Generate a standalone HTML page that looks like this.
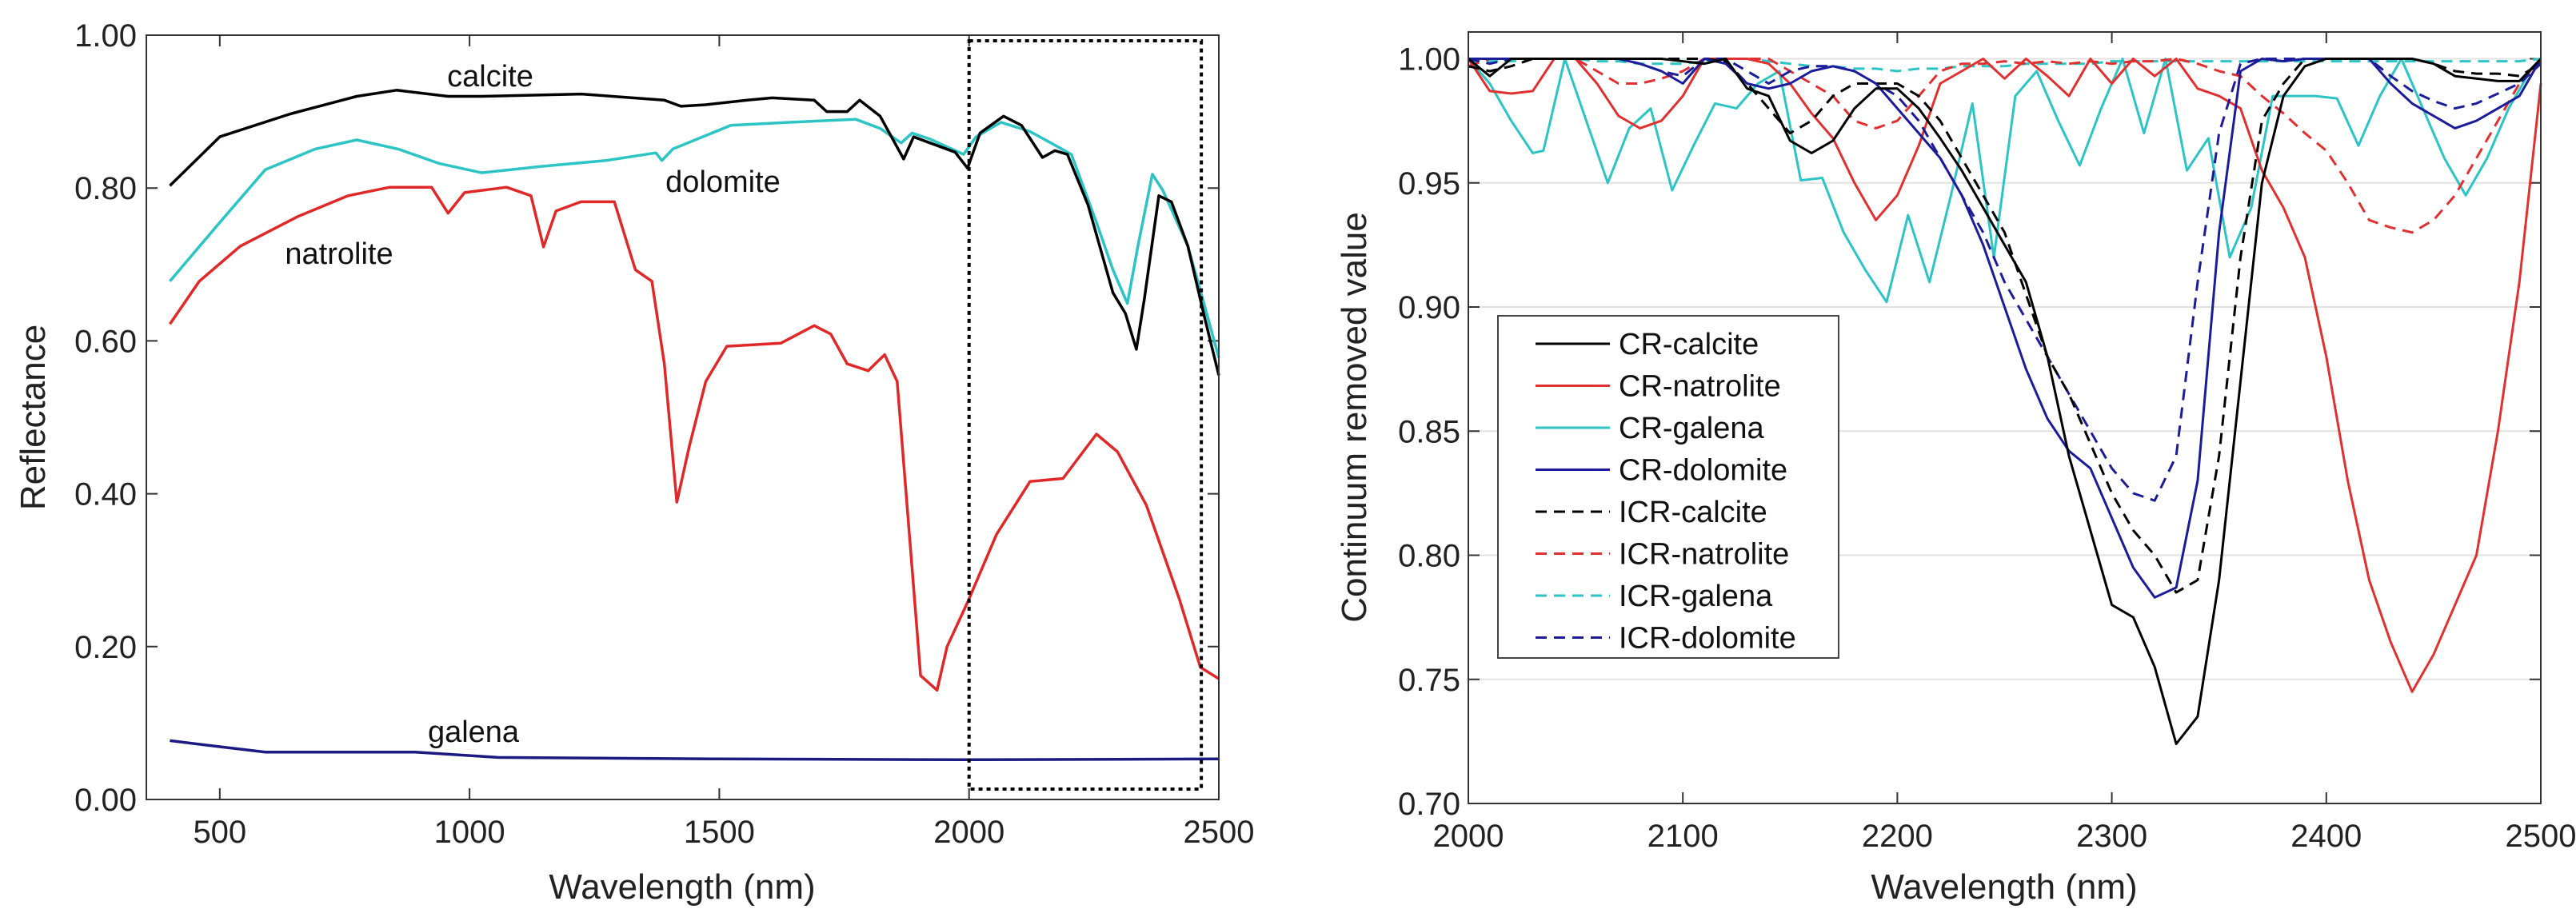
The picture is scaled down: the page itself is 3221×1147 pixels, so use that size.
<!DOCTYPE html>
<html><head><meta charset="utf-8"><title>Reflectance and continuum-removed spectra</title>
<style>
html,body{margin:0;padding:0;background:#fff;}
svg{display:block;font-family:"Liberation Sans",Arial,sans-serif;}
</style></head>
<body>
<svg id="fig" xmlns="http://www.w3.org/2000/svg" width="3221" height="1147" viewBox="0 0 3221 1147">
<rect width="3221" height="1147" fill="#fff"/>
<g id="left"></g>
<g id="right"></g>
</svg>
<script>
// ---------- Left chart data ----------
const leftXTicks = [500, 1000, 1500, 2000, 2500];
const leftYTicks = [0, 0.2, 0.4, 0.6, 0.8, 1.0];
const leftYTickLabels = ["0.00", "0.20", "0.40", "0.60", "0.80", "1.00"];
const calciteX = [400,500,641,774,854,957,1024,1224,1390,1423,1473,1556,1606,1690,1715,1756,1781,1822,1869,1889,1922,1972,1997,2022,2069,2105,2147,2172,2197,2238,2288,2313,2335,2351,2380,2405,2438,2471,2500];
const calciteY = [0.803,0.867,0.897,0.92,0.928,0.92,0.92,0.923,0.915,0.907,0.909,0.915,0.918,0.915,0.9,0.9,0.915,0.894,0.838,0.867,0.859,0.847,0.826,0.872,0.894,0.882,0.84,0.849,0.844,0.778,0.663,0.636,0.589,0.655,0.79,0.782,0.724,0.632,0.555];
const dolomiteX = [400,500,591,691,774,857,940,1024,1140,1273,1373,1385,1407,1523,1640,1773,1822,1864,1886,1922,1989,2014,2064,2122,2164,2205,2255,2288,2317,2338,2367,2388,2438,2471,2500];
const dolomiteY = [0.678,0.755,0.824,0.851,0.863,0.851,0.832,0.82,0.828,0.836,0.846,0.836,0.851,0.882,0.886,0.89,0.878,0.859,0.872,0.864,0.844,0.867,0.886,0.874,0.859,0.844,0.755,0.693,0.649,0.724,0.818,0.797,0.724,0.647,0.578];
const natroliteX = [400,459,541,657,757,840,924,957,990,1074,1123,1148,1173,1223,1290,1332,1365,1390,1415,1440,1473,1515,1623,1690,1723,1756,1798,1831,1856,1889,1903,1936,1956,1997,2055,2122,2188,2255,2297,2355,2421,2463,2500];
const natroliteY = [0.622,0.678,0.724,0.763,0.79,0.801,0.801,0.767,0.794,0.801,0.79,0.723,0.77,0.782,0.782,0.693,0.678,0.57,0.389,0.462,0.547,0.593,0.597,0.62,0.609,0.57,0.561,0.582,0.547,0.277,0.162,0.143,0.2,0.258,0.347,0.416,0.42,0.478,0.455,0.385,0.262,0.173,0.158];
const galenaX = [400,500,591,891,1057,1500,2000,2500];
const galenaY = [0.077,0.069,0.062,0.062,0.055,0.053,0.052,0.053];

// ---------- Right chart data ----------
const rightXTicks = [2000, 2100, 2200, 2300, 2400, 2500];
const rightYTicks = [0.70, 0.75, 0.80, 0.85, 0.90, 0.95, 1.00];
const rightYTickLabels = ["0.70", "0.75", "0.80", "0.85", "0.90", "0.95", "1.00"];
const waveR = [2000,2010,2020,2030,2040,2050,2060,2070,2080,2090,2100,2110,2120,2130,2140,2150,2160,2170,2180,2190,2200,2210,2220,2230,2240,2250,2260,2270,2280,2290,2300,2310,2320,2330,2340,2350,2360,2370,2380,2390,2400,2410,2420,2430,2440,2450,2460,2470,2480,2490,2500];
const crCalcite = [1,0.993,1,1,1,1,1,1,1,1,0.999,0.998,1,0.988,0.985,0.967,0.962,0.967,0.98,0.988,0.988,0.98,0.968,0.955,0.94,0.925,0.91,0.88,0.84,0.81,0.78,0.775,0.755,0.724,0.735,0.79,0.87,0.95,0.985,0.997,1,1,1,1,1,0.998,0.993,0.992,0.991,0.991,1];
const crNatrolite = [1,0.987,0.986,0.987,1,1,0.99,0.977,0.972,0.975,0.985,1,1,1,0.998,0.99,0.978,0.968,0.95,0.935,0.945,0.965,0.99,0.995,1,0.992,1,0.993,0.985,1,0.99,1,0.993,1,0.988,0.985,0.98,0.955,0.94,0.92,0.88,0.83,0.79,0.765,0.745,0.76,0.78,0.8,0.85,0.91,0.99];
const galenaWave = [2000,2010,2020,2030,2035,2045,2055,2065,2075,2085,2095,2105,2115,2125,2135,2145,2155,2165,2175,2185,2195,2205,2215,2225,2235,2245,2255,2265,2275,2285,2295,2305,2315,2325,2335,2345,2355,2365,2375,2385,2395,2405,2415,2425,2435,2445,2455,2465,2475,2485,2495,2500];
const crGalena = [1,0.99,0.975,0.962,0.963,1,0.975,0.95,0.972,0.98,0.947,0.965,0.982,0.98,0.99,0.995,0.951,0.952,0.93,0.915,0.902,0.937,0.91,0.945,0.982,0.92,0.985,0.995,0.975,0.957,0.98,1,0.97,1,0.955,0.968,0.92,0.94,0.985,0.985,0.985,0.984,0.965,0.985,1,0.98,0.96,0.945,0.96,0.98,0.995,1];
const crDolomite = [1,1,1,1,1,1,1,1,0.998,0.995,0.99,1,0.998,0.99,0.988,0.99,0.995,0.997,0.995,0.99,0.98,0.97,0.96,0.945,0.925,0.9,0.875,0.855,0.842,0.835,0.815,0.795,0.783,0.787,0.83,0.93,0.995,1,0.999,1,1,1,1,0.99,0.982,0.977,0.972,0.975,0.98,0.985,1];
const icrCalcite = [0.997,0.995,0.997,1,1,1,1,1,1,1,1,1,0.999,0.99,0.98,0.97,0.975,0.985,0.99,0.99,0.99,0.985,0.975,0.96,0.945,0.93,0.905,0.88,0.865,0.845,0.825,0.81,0.8,0.785,0.79,0.84,0.92,0.975,0.99,1,1,1,1,1,1,0.998,0.995,0.994,0.994,0.993,0.998];
const icrNatrolite = [0.997,1,1,1,1,1,0.995,0.99,0.99,0.992,0.995,1,1,1,1,0.995,0.99,0.985,0.975,0.972,0.975,0.985,0.995,0.998,0.998,0.999,0.998,0.999,0.998,0.999,0.998,0.999,0.999,1,0.998,0.995,0.993,0.985,0.978,0.97,0.963,0.95,0.935,0.932,0.93,0.935,0.945,0.96,0.975,0.99,1];
const icrGalena = [0.999,0.999,0.999,1,1,1,0.999,0.999,0.998,0.998,0.998,0.999,1,1,0.999,0.998,0.997,0.997,0.996,0.996,0.995,0.996,0.996,0.997,0.997,0.997,0.998,0.998,0.998,0.998,0.999,0.999,0.999,0.999,0.999,0.999,0.999,0.999,0.999,0.999,0.999,0.999,0.999,0.999,0.999,0.999,0.999,0.999,0.999,0.999,1];
const icrDolomite = [1,0.998,1,1,1,1,1,1,0.998,0.995,0.993,1,1,0.995,0.99,0.995,0.997,0.997,0.995,0.99,0.985,0.975,0.96,0.945,0.93,0.91,0.895,0.88,0.865,0.85,0.835,0.825,0.822,0.84,0.91,0.97,0.998,1,1,1,1,1,1,0.993,0.987,0.983,0.98,0.982,0.986,0.99,0.998];

const NS = "http://www.w3.org/2000/svg";
function mk(parent, tag, attrs) {
  const e = document.createElementNS(NS, tag);
  for (const k in attrs) e.setAttribute(k, attrs[k]);
  parent.appendChild(e);
  return e;
}
const AX_FONT = 40, TITLE_FONT = 44;

// ---------- Left chart ----------
const L = {x0: 183, x1: 1524, y0: 1000, y1: 44, xmin: 353, xmax: 2500, ymin: 0, ymax: 1.0};
const lx = v => L.x0 + (v - L.xmin) / (L.xmax - L.xmin) * (L.x1 - L.x0);
const ly = v => L.y0 - (v - L.ymin) / (L.ymax - L.ymin) * (L.y0 - L.y1);
const gl = document.getElementById('left');

leftXTicks.forEach((t, i) => {
  const tk = mk(gl, 'path', {d: `M${lx(t)},${L.y0}v-14M${lx(t)},${L.y1}v14`, stroke: '#333', 'stroke-width': 2});
  
  
  const tl = mk(gl, 'text', {x: lx(t), y: L.y0 + 54, 'font-size': AX_FONT, 'text-anchor': 'middle', fill: '#222'});
  tl.textContent = t;
  
  
});
leftYTicks.forEach((t, i) => {
  const tk = mk(gl, 'path', {d: `M${L.x0},${ly(t)}h14M${L.x1},${ly(t)}h-14`, stroke: '#333', 'stroke-width': 2});
  
  
  const tl = mk(gl, 'text', {x: L.x0 - 12, y: ly(t) + 14, 'font-size': AX_FONT, 'text-anchor': 'end', fill: '#222'});
  tl.textContent = leftYTickLabels[i];
  
  
});

function lineL(xs, ys, color, name, w) {
  const d = xs.map((x, i) => (i ? 'L' : 'M') + lx(x).toFixed(1) + ',' + ly(ys[i]).toFixed(1)).join('');
  const p = mk(gl, 'path', {d: d, fill: 'none', stroke: color, 'stroke-width': w || 3.5, 'stroke-linejoin': 'round'});
  
  
}
lineL(galenaX, galenaY, '#1a1a80', 'galena-line');
lineL(natroliteX, natroliteY, '#e02828', 'natrolite-line');
lineL(dolomiteX, dolomiteY, '#2cc4c4', 'dolomite-line');
lineL(calciteX, calciteY, '#000', 'calcite-line');

const zoomBox = mk(gl, 'rect', {x: lx(2000), y: 51, width: lx(2465) - lx(2000), height: 936, fill: 'none', stroke: '#000', 'stroke-width': 4, 'stroke-dasharray': '5,5'});



const lFrame = mk(gl, 'rect', {x: L.x0, y: L.y1, width: L.x1 - L.x0, height: L.y0 - L.y1, fill: 'none', stroke: '#333', 'stroke-width': 2});



[["calcite", 613, 108], ["dolomite", 904, 240], ["natrolite", 424, 330], ["galena", 592, 928]].forEach(a => {
  const t = mk(gl, 'text', {x: a[1], y: a[2], 'font-size': 38, 'text-anchor': 'middle', fill: '#111'});
  t.textContent = a[0];
  
  
});
const lxt = mk(gl, 'text', {x: 853, y: 1124, 'font-size': TITLE_FONT, 'text-anchor': 'middle', fill: '#222'});
lxt.textContent = 'Wavelength (nm)';


const lyt = mk(gl, 'text', {x: 0, y: 0, 'font-size': TITLE_FONT, 'text-anchor': 'middle', fill: '#222', transform: 'translate(56,522) rotate(-90)'});
lyt.textContent = 'Reflectance';



// ---------- Right chart ----------
const R = {x0: 1836, x1: 3177, y0: 1005, y1: 40, xmin: 2000, xmax: 2500, ymin: 0.70, ymax: 1.0};
const rx = v => R.x0 + (v - R.xmin) / (R.xmax - R.xmin) * (R.x1 - R.x0);
const ryScale = (1005 - 73.5) / 0.30;
const ry = v => R.y0 - (v - R.ymin) * ryScale;
const gr = document.getElementById('right');

rightYTicks.forEach((t, i) => {
  if (t > 0.7) {
    const g = mk(gr, 'line', {x1: R.x0, x2: R.x1, y1: ry(t), y2: ry(t), stroke: '#e2e2e2', 'stroke-width': 2});
    
    
  }
  const tk = mk(gr, 'path', {d: `M${R.x0},${ry(t)}h14M${R.x1},${ry(t)}h-14`, stroke: '#333', 'stroke-width': 2});
  
  
  const tl = mk(gr, 'text', {x: R.x0 - 10, y: ry(t) + 14, 'font-size': AX_FONT, 'text-anchor': 'end', fill: '#222'});
  tl.textContent = rightYTickLabels[i];
  
  
});
rightXTicks.forEach(t => {
  const tk = mk(gr, 'path', {d: `M${rx(t)},${R.y0}v-14M${rx(t)},${R.y1}v14`, stroke: '#333', 'stroke-width': 2});
  
  
  const tl = mk(gr, 'text', {x: rx(t), y: R.y0 + 54, 'font-size': AX_FONT, 'text-anchor': 'middle', fill: '#222'});
  tl.textContent = t;
  
  
});

function lineR(xs, ys, color, dashed, name) {
  const d = xs.map((x, i) => (i ? 'L' : 'M') + rx(x).toFixed(1) + ',' + ry(ys[i]).toFixed(1)).join('');
  const attrs = {d: d, fill: 'none', stroke: color, 'stroke-width': 3, 'stroke-linejoin': 'round'};
  if (dashed) attrs['stroke-dasharray'] = '14,9';
  const p = mk(gr, 'path', attrs);
  
  
}
const cBlack = '#000', cRed = '#e03030', cCyan = '#2cc4c4', cNavy = '#1c1c9a';
lineR(waveR, icrGalena, cCyan, true, 'icr-galena-line');
lineR(galenaWave, crGalena, cCyan, false, 'cr-galena-line');
lineR(waveR, crNatrolite, cRed, false, 'cr-natrolite-line');
lineR(waveR, icrNatrolite, cRed, true, 'icr-natrolite-line');
lineR(waveR, icrDolomite, cNavy, true, 'icr-dolomite-line');
lineR(waveR, icrCalcite, cBlack, true, 'icr-calcite-line');
lineR(waveR, crDolomite, cNavy, false, 'cr-dolomite-line');
lineR(waveR, crCalcite, cBlack, false, 'cr-calcite-line');

const rFrame = mk(gr, 'rect', {x: R.x0, y: R.y1, width: R.x1 - R.x0, height: R.y0 - R.y1, fill: 'none', stroke: '#333', 'stroke-width': 2});



// legend
const legend = mk(gr, 'g', {});


const lb = mk(legend, 'rect', {x: 1873, y: 395, width: 426, height: 428, fill: '#fff', stroke: '#444', 'stroke-width': 2});


const legLabels = ['CR-calcite', 'CR-natrolite', 'CR-galena', 'CR-dolomite', 'ICR-calcite', 'ICR-natrolite', 'ICR-galena', 'ICR-dolomite'];
const legColors = [cBlack, cRed, cCyan, cNavy, cBlack, cRed, cCyan, cNavy];
legLabels.forEach((lab, i) => {
  const y = 430 + i * 52.5;
  const a = {x1: 1920, x2: 2013, y1: y, y2: y, stroke: legColors[i], 'stroke-width': 3};
  if (i >= 4) a['stroke-dasharray'] = '14,9';
  const ln = mk(legend, 'line', a);
  
  
  const t = mk(legend, 'text', {x: 2024, y: y + 13, 'font-size': 38, fill: '#111'});
  t.textContent = lab;
  
  
});

const rxt = mk(gr, 'text', {x: 2506, y: 1124, 'font-size': TITLE_FONT, 'text-anchor': 'middle', fill: '#222'});
rxt.textContent = 'Wavelength (nm)';


const ryt = mk(gr, 'text', {x: 0, y: 0, 'font-size': TITLE_FONT, 'text-anchor': 'middle', fill: '#222', transform: 'translate(1708,522) rotate(-90)'});
ryt.textContent = 'Continuum removed value';


</script>
</body></html>
